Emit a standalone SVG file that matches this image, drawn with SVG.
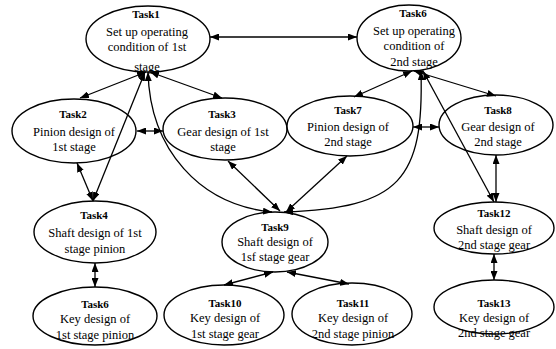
<svg xmlns="http://www.w3.org/2000/svg" width="556" height="349" viewBox="0 0 556 349">
<style>
.n ellipse{fill:#fff;stroke:#000;stroke-width:1.4}
.n text{font-family:'Liberation Serif','Times New Roman',Times,serif;font-size:12.5px;fill:#000;text-anchor:middle}
.n text.t{font-size:11px;font-weight:bold}
#edges path{fill:none;stroke:#000;stroke-width:1.3;marker-start:url(#ah);marker-end:url(#ah)}
</style>
<defs>
<marker id="ah" viewBox="0 0 10 10" refX="10" refY="5" markerWidth="9" markerHeight="7" markerUnits="userSpaceOnUse" orient="auto-start-reverse" preserveAspectRatio="none">
<path d="M0,0 L10,5 L0,10 z" fill="#000"/>
</marker>
</defs>
<rect width="556" height="349" fill="#fff"/>
<g id="task1" class="n"><ellipse cx="148" cy="39" rx="62" ry="33"/>
<text class="t" x="146" y="18">Task1</text><text x="147" y="36">Set up operating</text><text x="147" y="51">condition of 1st</text><text x="147" y="71">stage</text></g>
<g id="task6a" class="n"><ellipse cx="409" cy="38" rx="52" ry="33"/>
<text class="t" x="413" y="17">Task6</text><text x="414" y="35">Set up operating</text><text x="414" y="50">condition of</text><text x="414" y="66">2nd stage</text></g>
<g id="task2" class="n"><ellipse cx="74" cy="131" rx="62" ry="32"/>
<text class="t" x="73" y="118">Task2</text><text x="74" y="136">Pinion design of</text><text x="74" y="151">1st stage</text></g>
<g id="task3" class="n"><ellipse cx="225" cy="129" rx="62" ry="31"/>
<text class="t" x="222" y="118">Task3</text><text x="223" y="136">Gear design of 1st</text><text x="223" y="151">stage</text></g>
<g id="task7" class="n"><ellipse cx="350" cy="126" rx="63" ry="30"/>
<text class="t" x="348" y="114">Task7</text><text x="348" y="131">Pinion design of</text><text x="348" y="146">2nd stage</text></g>
<g id="task8" class="n"><ellipse cx="496" cy="125" rx="57" ry="30"/>
<text class="t" x="498" y="114">Task8</text><text x="498" y="131">Gear design of</text><text x="498" y="146">2nd stage</text></g>
<g id="task4" class="n"><ellipse cx="95" cy="232" rx="61" ry="31"/>
<text class="t" x="94" y="219">Task4</text><text x="95" y="237">Shaft design of 1st</text><text x="95" y="253">stage pinion</text></g>
<g id="task9" class="n"><ellipse cx="275" cy="242" rx="53" ry="30"/>
<text class="t" x="275" y="231">Task9</text><text x="275" y="246">Shaft design of</text><text x="275" y="261">1sf stage gear</text></g>
<g id="task12" class="n"><ellipse cx="494" cy="228" rx="60" ry="26"/>
<text class="t" x="494" y="217">Task12</text><text x="494" y="234">Shaft design of</text><text x="494" y="249">2nd stage gear</text></g>
<g id="task6b" class="n"><ellipse cx="95" cy="316" rx="62" ry="29"/>
<text class="t" x="95" y="308">Task6</text><text x="95" y="323">Key design of</text><text x="95" y="339">1st stage pinion</text></g>
<g id="task10" class="n"><ellipse cx="224" cy="315" rx="60" ry="30"/>
<text class="t" x="225" y="307">Task10</text><text x="225" y="322">Key design of</text><text x="225" y="338">1st stage gear</text></g>
<g id="task11" class="n"><ellipse cx="352" cy="314" rx="60" ry="31"/>
<text class="t" x="353" y="307">Task11</text><text x="353" y="322">Key design of</text><text x="353" y="338">2nd stage pinion</text></g>
<g id="task13" class="n"><ellipse cx="494" cy="307" rx="60" ry="27"/>
<text class="t" x="494" y="307">Task13</text><text x="494" y="322">Key design of</text><text x="494" y="337">2nd stage gear</text></g>
<g id="edges">
<path d="M210,37 L357,37"/>
<path d="M146,72 L80,98"/>
<path d="M150,72 L222,98"/>
<path d="M145,72 L93,201"/>
<path d="M148,72 C150,150 200,205 272,212"/>
<path d="M228,161 L280,211"/>
<path d="M137,131 L163,131"/>
<path d="M77,163 L93,201"/>
<path d="M95,263 L95,287"/>
<path d="M412,71 L354,97"/>
<path d="M414,71 L496,96"/>
<path d="M421,71 C424,180 400,208 284,212"/>
<path d="M423,71 L494,202"/>
<path d="M413,127 L439,127"/>
<path d="M347,156 L286,212"/>
<path d="M496,155 L496,202"/>
<path d="M273,272 L224,285"/>
<path d="M287,272 L349,284"/>
<path d="M494,254 L494,280"/>
</g>
</svg>
